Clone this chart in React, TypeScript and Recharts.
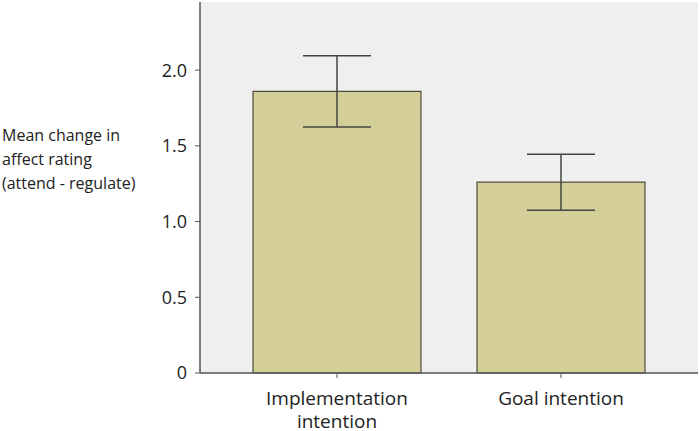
import { BarChart, Bar, XAxis, YAxis, CartesianGrid, ErrorBar } from "recharts";

const categories = ["Implementation intention", "Goal intention"];
const tickLines = [["Implementation", "intention"], ["Goal intention"]];
const means = [1.86, 1.26];
const errors = [0.235, 0.185];
const yTicks = [0, 0.5, 1.0, 1.5, 2.0];
const yLabelLines = ["Mean change in", "affect rating", "(attend - regulate)"];

const data = categories.map((name, i) => ({ name, mean: means[i], err: errors[i], idx: i }));

const FONT = "'Open Sans', sans-serif";

function CategoryTick(props: any) {
  const { x, y, index } = props;
  const lines = tickLines[index] ?? [String(props.payload?.value)];
  return (
    <text x={x} y={y} textAnchor="middle" fontFamily={FONT} fontSize={19} fill="#222">
      {lines.map((l, i) => (
        <tspan key={i} x={x} dy={i === 0 ? 25 : 23}>
          {l}
        </tspan>
      ))}
    </text>
  );
}

function YLabel() {
  return (
    <text x={2} y={141} fontFamily={FONT} fontSize={16} fill="#222">
      {yLabelLines.map((l, i) => (
        <tspan key={i} x={2} dy={i === 0 ? 0 : 24}>
          {l}
        </tspan>
      ))}
    </text>
  );
}

export default function App() {
  return (
    <div style={{ position: "absolute", left: 0, top: 0, background: "#fff" }}>
      <BarChart
        width={700}
        height={431}
        data={data}
        margin={{ top: 2, right: 2, left: 140, bottom: 0 }}
        barCategoryGap="12.5%"
      >
        <CartesianGrid horizontal={false} vertical={false} fill="#efefef" />
        <XAxis
          dataKey="name"
          height={58}
          padding={{ left: 25, right: 25 }}
          tick={<CategoryTick />}
          tickLine={{ stroke: "#555" }}
          tickSize={5}
          axisLine={{ stroke: "#555", strokeWidth: 1.5 }}
          interval={0}
        />
        <XAxis xAxisId="top" orientation="top" dataKey="name" height={0} tick={false} tickLine={false} axisLine={{ stroke: "#8a8a8a" }} />
        <YAxis
          domain={[0, 2.45]}
          ticks={yTicks}
          width={60}
          tickFormatter={(v: number) => (v === 0 ? "0" : v.toFixed(1))}
          tick={{ fontFamily: FONT, fontSize: 18, fill: "#222" }}
          tickLine={{ stroke: "#555" }}
          tickSize={5}
          tickMargin={8}
          axisLine={{ stroke: "#555", strokeWidth: 1.5 }}
          label={<YLabel />}
        />
        <YAxis yAxisId="right" orientation="right" width={0} tick={false} tickLine={false} axisLine={{ stroke: "#8a8a8a" }} domain={[0, 2.45]} />
        <Bar dataKey="mean" fill="#d4cf99" stroke="#4f4e3e" strokeWidth={1.2} isAnimationActive={false}>
          <ErrorBar dataKey="err" width={34} stroke="#444" strokeWidth={1.5} />
        </Bar>
      </BarChart>
    </div>
  );
}
